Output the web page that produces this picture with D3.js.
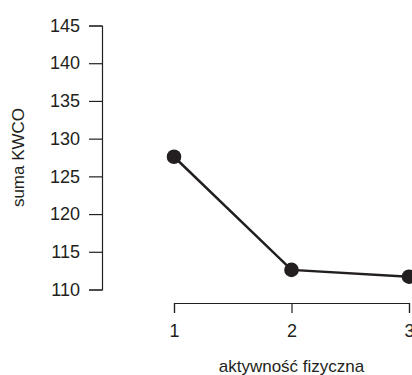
<!DOCTYPE html>
<html>
<head>
<meta charset="utf-8">
<script src="https://cdn.jsdelivr.net/npm/d3@7"></script>
<style>
  body { margin: 0; background: #fff; }
  svg { display: block; }
  text { font-family: 'Liberation Sans', Arial, Helvetica, sans-serif; fill: #231f20; }
</style>
</head>
<body>
<div id="chart"></div>
<script>
const categories = [1, 2, 3];
const values = [127.6, 112.6, 111.7];
const yTicks = [110, 115, 120, 125, 130, 135, 140, 145];
const xLabel = 'aktywność fizyczna';
const yLabel = 'suma KWCO';

const width = 412, height = 375;
const ink = '#231f20';

const svg = d3.select('#chart').append('svg')
  .attr('width', width)
  .attr('height', height);

const x = d3.scaleLinear().domain([1, 3]).range([174, 409]);
const y = d3.scaleLinear().domain([110, 145]).range([289.5, 25.5]);

// y axis
const yAxis = svg.append('g')
  .attr('transform', 'translate(102,0)')
  .call(d3.axisLeft(y).tickValues(yTicks).tickSize(13).tickPadding(9));
yAxis.selectAll('text').attr('font-size', 18).style('font-family', null);

// x axis
const xAxis = svg.append('g')
  .attr('transform', 'translate(0,303)')
  .call(d3.axisBottom(x).tickValues(categories).tickFormat(d3.format('d')).tickSize(10).tickPadding(11));
xAxis.selectAll('text').attr('font-size', 18).style('font-family', null);

svg.selectAll('.domain, .tick line').attr('stroke', ink).attr('stroke-width', 1.2);
svg.selectAll('.tick text').attr('fill', ink);

// axis titles
svg.append('text')
  .attr('x', (x(1) + x(3)) / 2)
  .attr('y', 372)
  .attr('text-anchor', 'middle')
  .attr('font-size', 17)
  .text(xLabel);

svg.append('text')
  .attr('transform', 'translate(24,' + ((y(110) + y(145)) / 2) + ') rotate(-90)')
  .attr('text-anchor', 'middle')
  .attr('font-size', 17)
  .text(yLabel);

// line + points
const line = d3.line()
  .x((d, i) => x(categories[i]))
  .y(d => y(d));

svg.append('path')
  .datum(values)
  .attr('d', line)
  .attr('fill', 'none')
  .attr('stroke', ink)
  .attr('stroke-width', 2.5);

svg.selectAll('circle')
  .data(values)
  .enter().append('circle')
  .attr('cx', (d, i) => x(categories[i]))
  .attr('cy', d => y(d))
  .attr('r', 7.3)
  .attr('fill', ink);
</script>
</body>
</html>
